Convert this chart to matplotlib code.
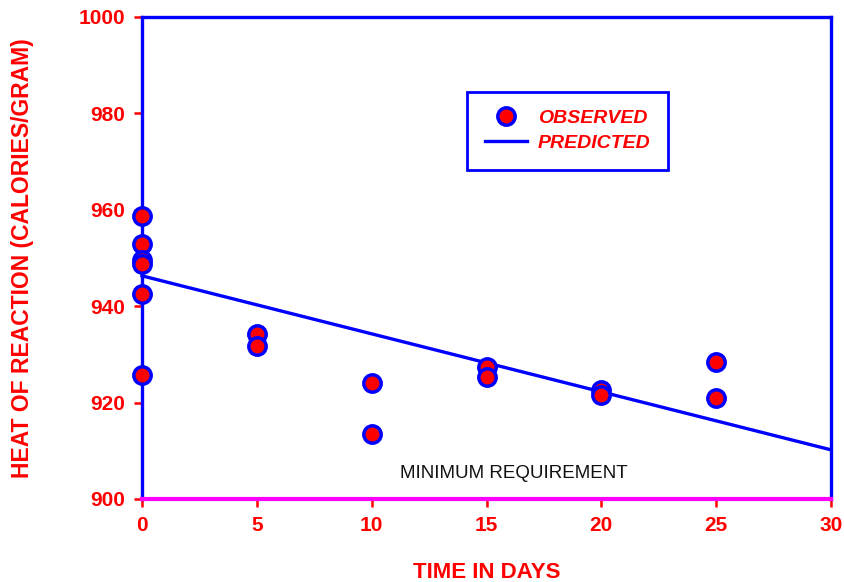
import matplotlib
matplotlib.use("Agg")
import matplotlib.pyplot as plt
from matplotlib.lines import Line2D

plt.rcParams['font.family'] = ['Liberation Sans', 'DejaVu Sans']

# Data
obs_days = [0, 0, 0, 0, 0, 0, 5, 5, 10, 10, 15, 15, 20, 20, 25, 25]
obs_heat = [958.7, 952.9, 949.6, 948.8, 942.5, 925.7,
            934.2, 931.7, 924.1, 913.5, 927.4, 925.3,
            922.6, 921.6, 928.4, 920.9]
pred_days = [0, 30]
pred_heat = [946.3, 910.2]
x_ticks = [0, 5, 10, 15, 20, 25, 30]
y_ticks = [900, 920, 940, 960, 980, 1000]
min_requirement = 900

RED = '#ff0000'
BLUE = '#0000ff'
MAGENTA = '#ff00ff'

fig = plt.figure(figsize=(8.44, 5.82), dpi=100)
ax = fig.add_axes([142/844, 1-499/582, (831-142)/844, (499-17)/582])

ax.plot(pred_days, pred_heat, color=BLUE, lw=2.4, zorder=3, clip_on=False)
ax.plot(obs_days, obs_heat, linestyle='none', marker='o', markersize=12.5,
        markerfacecolor=RED, markeredgecolor=BLUE, markeredgewidth=2.5,
        zorder=5, clip_on=False)

ax.set_xlim(0, 30)
ax.set_ylim(900, 1000)
ax.set_xticks(x_ticks)
ax.set_yticks(y_ticks)

for s in ['left', 'top', 'right']:
    ax.spines[s].set_color(BLUE)
    ax.spines[s].set_linewidth(2.4)
ax.spines['bottom'].set_color(MAGENTA)
ax.spines['bottom'].set_linewidth(3)
ax.spines['bottom'].set_zorder(4)

ax.tick_params(axis='both', direction='out', colors=RED, length=6, width=1.8,
               labelsize=15)
ax.tick_params(axis='x', pad=6)
ax.tick_params(axis='y', pad=6)
for lbl in ax.get_xticklabels() + ax.get_yticklabels():
    lbl.set_fontweight('bold')

ax.set_xlabel('TIME IN DAYS', color=RED, fontsize=16, fontweight='bold', labelpad=20)
ax.set_ylabel('HEAT OF REACTION (CALORIES/GRAM)', color=RED, fontsize=16.5,
              fontweight='bold', labelpad=32)

ax.text(16.2, 905.2, 'MINIMUM REQUIREMENT', ha='center', va='center',
        fontsize=13.5, color='#111111')

handles = [
    Line2D([], [], linestyle='none', marker='o', markersize=12.5,
           markerfacecolor=RED, markeredgecolor=BLUE, markeredgewidth=2.5),
    Line2D([], [], color=BLUE, lw=2.4),
]
leg = ax.legend(handles, ['OBSERVED', 'PREDICTED'],
                loc='upper left', bbox_to_anchor=((467-142)/689, 1-(92-17)/482),
                frameon=True, fancybox=False, edgecolor=BLUE, framealpha=1,
                handlelength=2.2, handletextpad=0.55, borderpad=0.9,
                labelspacing=0.38, borderaxespad=0,
                prop={'weight': 'bold', 'style': 'italic', 'size': 14})
leg.get_frame().set_linewidth(2)
for t in leg.get_texts():
    t.set_color(RED)

fig.savefig('out.png', dpi=100)
